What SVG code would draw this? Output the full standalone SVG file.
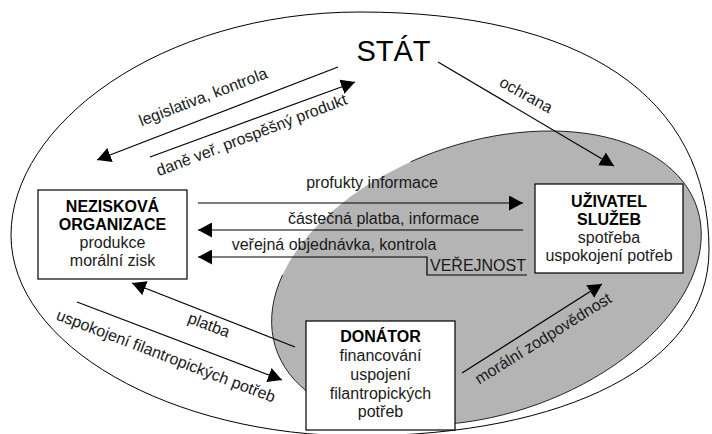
<svg xmlns="http://www.w3.org/2000/svg" width="712" height="434" viewBox="0 0 712 434">
<style>
text{font-family:"Liberation Sans",Arial,sans-serif;font-size:16px;fill:#1a1a1a}
.b{font-weight:bold;fill:#000}
.m{text-anchor:middle}
.box{fill:#fff;stroke:#000;stroke-width:1.2}
.ln{fill:none;stroke:#000;stroke-width:1.2}
.arr{marker-end:url(#ah)}
</style>
<defs>
<marker id="ah" viewBox="0 0 14 15" refX="14" refY="7.5" markerWidth="14" markerHeight="15" markerUnits="userSpaceOnUse" orient="auto">
<path d="M0,0 L14,7.5 L0,15 z" fill="#000"/>
</marker>
</defs>
<rect width="712" height="434" fill="#fff"/>
<g id="background">
<path d="M 360 12 C 580 12 709 95 709 250 C 709 365 565 435 360 436 C 170 436 11 345 11 235 C 11 125 160 12 360 12 Z" fill="#fff" stroke="#000" stroke-width="1"/>
<ellipse cx="486.5" cy="278" rx="222" ry="136" transform="rotate(-18.6 486.5 278)" fill="#b4b4b4"/>
<path d="M 410.7 161.8 A 222 136 -18.6 1 1 282.6 274.8" fill="none" stroke="#222" stroke-width="1"/>
</g>
<g id="connectors">
<line class="ln arr" x1="338" y1="67" x2="97" y2="160"/>
<line class="ln arr" x1="150" y1="157" x2="355" y2="82"/>
<line class="ln arr" x1="438" y1="62" x2="614" y2="166"/>
<line class="ln arr" x1="198" y1="203" x2="523" y2="203"/>
<line class="ln arr" x1="523" y1="230" x2="198" y2="230"/>
<polyline class="ln arr" points="527,275 427,275 427,257 198,257"/>
<line class="ln arr" x1="295" y1="347" x2="132" y2="283"/>
<line class="ln arr" x1="77" y1="302" x2="282" y2="380"/>
<line class="ln arr" x1="462" y1="373" x2="602" y2="284"/>
<text class="m" x="205" y="102" transform="rotate(-21 205 102)">legislativa, kontrola</text>
<text class="m" x="253.5" y="140" transform="rotate(-21 253.5 140)">daně veř. prospěšný produkt</text>
<text class="m" x="523.5" y="99.5" transform="rotate(29 523.5 99.5)">ochrana</text>
<text class="m" x="372" y="188">profukty informace</text>
<text class="m" x="383.5" y="223.5">částečná platba, informace</text>
<text class="m" x="334" y="249.5">veřejná objednávka, kontrola</text>
<text class="m" x="207" y="330" transform="rotate(21 207 330)">platba</text>
<text class="m" x="164" y="361" transform="rotate(21 164 361)">uspokojení filantropických potřeb</text>
<text class="m" x="546" y="343" transform="rotate(-32 546 343)">morální zodpovědnost</text>
</g>
<g id="verejnost">
<text class="m" x="478" y="271">VEŘEJNOST</text>
</g>
<g id="stat">
<text class="m" x="393.5" y="61" style="font-size:29px;fill:#000">STÁT</text>
</g>
<g id="neziskova">
<rect class="box" x="38" y="190" width="149" height="89"/>
<text class="m b" x="112.5" y="212">NEZISKOVÁ</text>
<text class="m b" x="112.5" y="230">ORGANIZACE</text>
<text class="m" x="112.5" y="248">produkce</text>
<text class="m" x="112.5" y="266">morální zisk</text>
</g>
<g id="uzivatel">
<rect class="box" x="535" y="184" width="148" height="89"/>
<text class="m b" x="609" y="207">UŽIVATEL</text>
<text class="m b" x="609" y="225">SLUŽEB</text>
<text class="m" x="609" y="243">spotřeba</text>
<text class="m" x="609" y="261">uspokojení potřeb</text>
</g>
<g id="donator">
<rect class="box" x="306" y="321" width="149" height="109"/>
<text class="m b" x="380.5" y="342">DONÁTOR</text>
<text class="m" x="380.5" y="361">financování</text>
<text class="m" x="380.5" y="380">uspojení</text>
<text class="m" x="380.5" y="398.5">filantropických</text>
<text class="m" x="380.5" y="417">potřeb</text>
</g>
</svg>
